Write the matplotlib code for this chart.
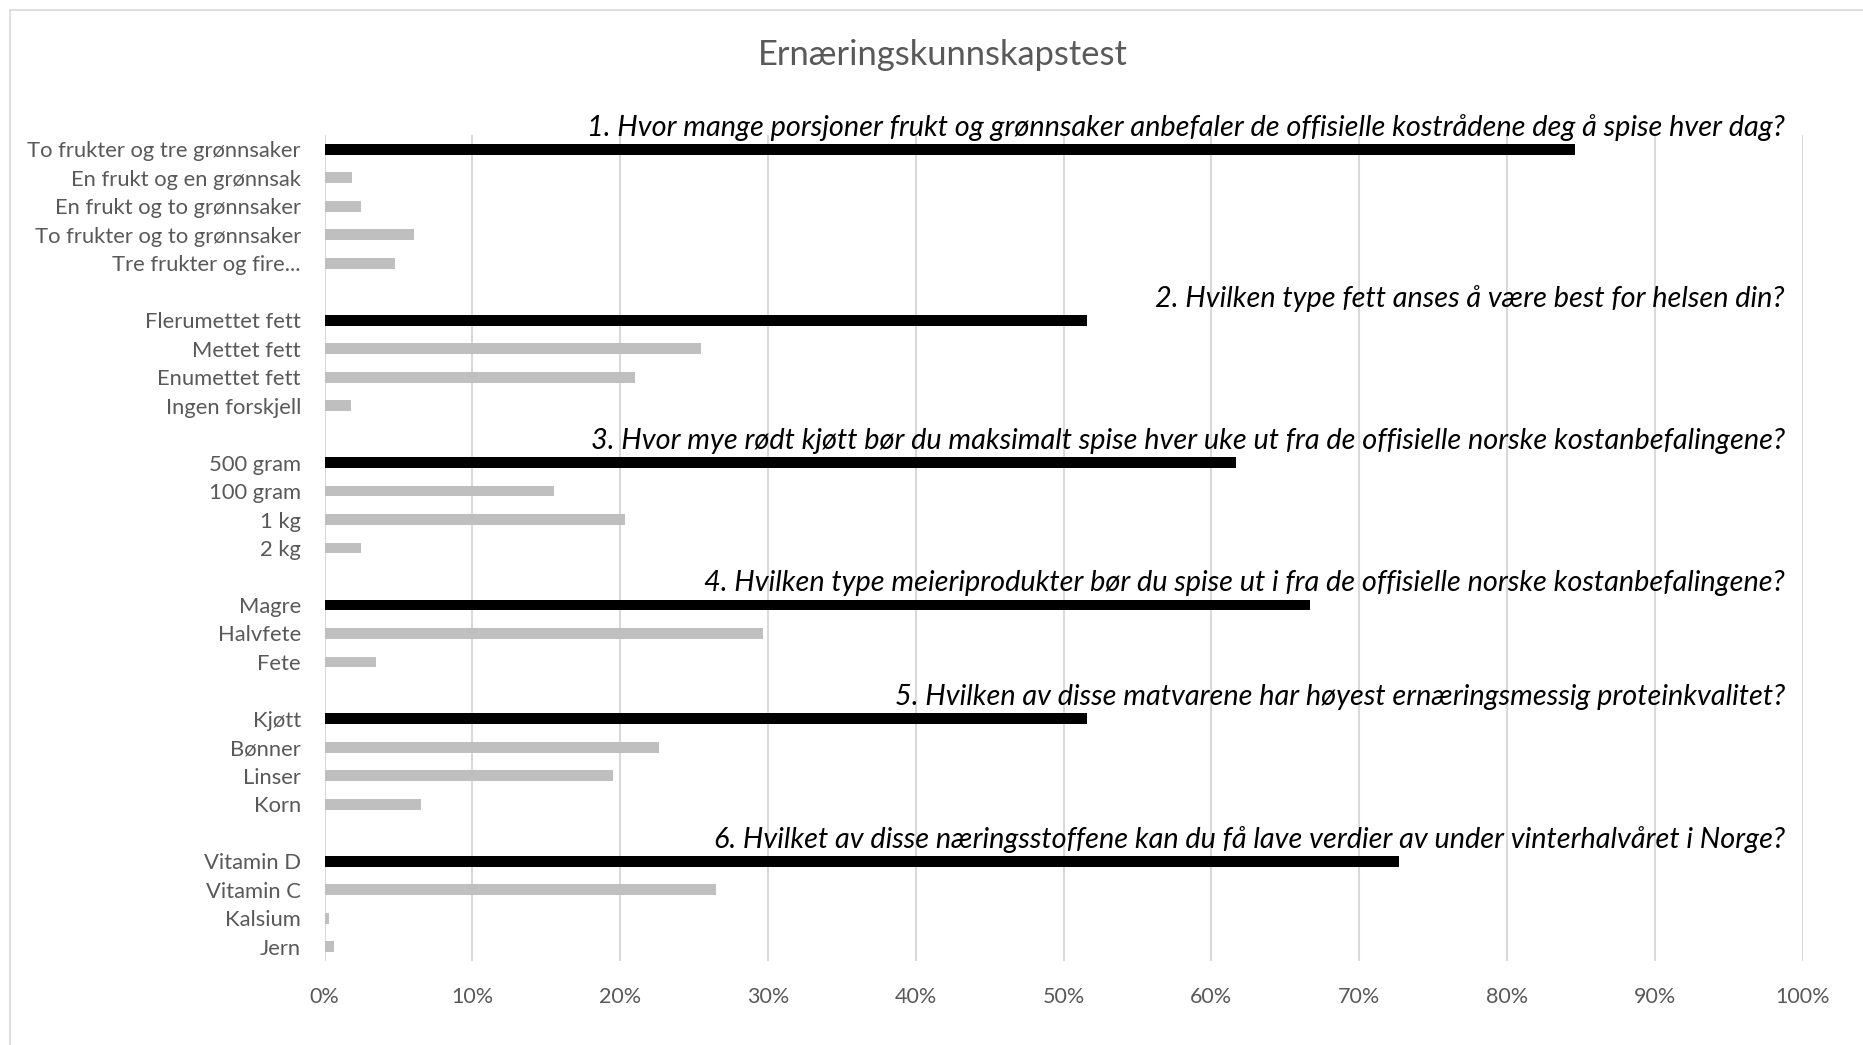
import matplotlib
matplotlib.use("Agg")
import matplotlib.pyplot as plt
from matplotlib.patches import Rectangle

plt.rcParams['font.family'] = ['Lato', 'DejaVu Sans']

title = 'Ernæringskunnskapstest'

# questions and answers (share of respondents, %), first answer is the correct one
questions = [
    '1. Hvor mange porsjoner frukt og grønnsaker anbefaler de offisielle kostrådene deg å spise hver dag?',
    '2. Hvilken type fett anses å være best for helsen din?',
    '3. Hvor mye rødt kjøtt bør du maksimalt spise hver uke ut fra de offisielle norske kostanbefalingene?',
    '4. Hvilken type meieriprodukter bør du spise ut i fra de offisielle norske kostanbefalingene?',
    '5. Hvilken av disse matvarene har høyest ernæringsmessig proteinkvalitet?',
    '6. Hvilket av disse næringsstoffene kan du få lave verdier av under vinterhalvåret i Norge?',
]
q1_labels = ['To frukter og tre grønnsaker', 'En frukt og en grønnsak', 'En frukt og to grønnsaker',
             'To frukter og to grønnsaker', 'Tre frukter og fire...']
q1_values = [84.6, 1.85, 2.5, 6.05, 4.8]
q2_labels = ['Flerumettet fett', 'Mettet fett', 'Enumettet fett', 'Ingen forskjell']
q2_values = [51.6, 25.5, 21.0, 1.8]
q3_labels = ['500 gram', '100 gram', '1 kg', '2 kg']
q3_values = [61.7, 15.5, 20.3, 2.5]
q4_labels = ['Magre', 'Halvfete', 'Fete']
q4_values = [66.7, 29.7, 3.5]
q5_labels = ['Kjøtt', 'Bønner', 'Linser', 'Korn']
q5_values = [51.6, 22.6, 19.5, 6.5]
q6_labels = ['Vitamin D', 'Vitamin C', 'Kalsium', 'Jern']
q6_values = [72.7, 26.5, 0.3, 0.65]

groups = [(q1_labels, q1_values), (q2_labels, q2_values), (q3_labels, q3_values),
          (q4_labels, q4_values), (q5_labels, q5_values), (q6_labels, q6_values)]

text_grey = '#595959'
W, H = 1863, 1045
fig = plt.figure(figsize=(W / 100, H / 100), dpi=100)
fig.patches.append(Rectangle((10 / W, -0.1), 1.2, 1.1 - 10 / H, transform=fig.transFigure,
                             fill=False, edgecolor='#d9d9d9', linewidth=1.2))

ax = fig.add_axes([324.5 / W, 1 - 961 / H, (1802.5 - 324.5) / W, (961 - 135) / H])

# build rows: one blank row between groups
rows, labels, values, colors, first_rows = [], [], [], [], []
row = 0
for labs, vals in groups:
    first_rows.append(row)
    for i, (lab, val) in enumerate(zip(labs, vals)):
        rows.append(row)
        labels.append(lab)
        values.append(val)
        colors.append('black' if i == 0 else '#bfbfbf')
        row += 1
    row += 1
n_rows = row - 1

ax.barh(rows, values, height=0.38, color=colors, zorder=3)
ax.set_ylim(n_rows - 0.5, -0.5)
ax.set_xlim(0, 100)
ax.set_yticks(rows)
ax.set_yticklabels(labels)
ax.set_xticks(range(0, 101, 10))
ax.set_xticklabels([f'{t}%' for t in range(0, 101, 10)])
ax.tick_params(axis='y', length=0, pad=17, labelsize=15.8, labelcolor=text_grey)
ax.tick_params(axis='x', length=0, pad=18.5, labelsize=15.5, labelcolor=text_grey)
ax.grid(axis='x', color='#d9d9d9', linewidth=1.5, zorder=0)
for s in ax.spines.values():
    s.set_visible(False)

for q, r in zip(questions, first_rows):
    ax.text(98.8, r - 0.76, q, ha='right', va='center', fontsize=20.8, style='italic',
            color='black', clip_on=False, zorder=4)

fig.text(943 / W, 1 - 55 / H, title, ha='center', va='center', fontsize=24.8, color=text_grey)

fig.savefig('out.png', dpi=100)
